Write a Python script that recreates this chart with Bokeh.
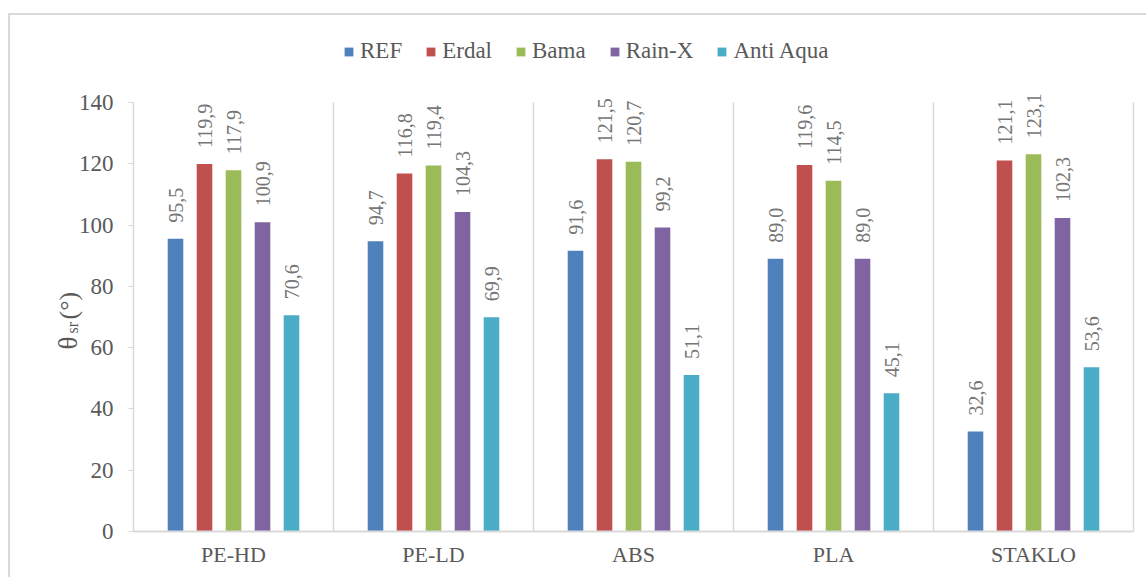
import math
from bokeh.plotting import figure
from bokeh.models import (Range1d, FixedTicker, Legend, LegendItem, Label,
                          ColumnDataSource, LinearAxis)
from bokeh.core.properties import value
from bokeh.embed import file_html
from bokeh.resources import INLINE

categories = ["PE-HD", "PE-LD", "ABS", "PLA", "STAKLO"]
series = ["REF", "Erdal", "Bama", "Rain-X", "Anti Aqua"]
REF = [95.5, 94.7, 91.6, 89.0, 32.6]
Erdal = [119.9, 116.8, 121.5, 119.6, 121.1]
Bama = [117.9, 119.4, 120.7, 114.5, 123.1]
RainX = [100.9, 104.3, 99.2, 89.0, 102.3]
AntiAqua = [70.6, 69.9, 51.1, 45.1, 53.6]
values_list = [REF, Erdal, Bama, RainX, AntiAqua]
colors = ["#4F81BD", "#C0504D", "#9BBB59", "#8064A2", "#4BACC6"]
y_ticks = [0, 20, 40, 60, 80, 100, 120, 140]

FONT = "Liberation Serif"
GRAY = "#595959"
LINE = "#d9d9d9"

W, H = 1138, 564
# pixel geometry of the plot area inside the canvas
X0, XSCALE = 123, 200.0          # x=0 at 123 px, one category = 200 px
Y0, YTOP = 516, 87               # y=0 at 516 px, y=140 at 87 px
YSCALE = (Y0 - YTOP) / 140.0

p = figure(width=W, height=H, output_backend="svg", toolbar_location=None,
           x_axis_type=None, y_axis_type=None,
           x_range=Range1d(-X0 / XSCALE, (W - X0) / XSCALE),
           y_range=Range1d(-(H - Y0) / YSCALE, Y0 / YSCALE),
           min_border=0)
p.styles = {"margin-top": "13px", "margin-left": "8px",
            "border-top": "2px solid #d9d9d9",
            "border-left": "2px solid #d9d9d9"}
p.outline_line_color = None
p.background_fill_color = "white"

ncat = len(categories)
# category separators
seps = list(range(1, ncat + 1))
p.segment(x0=seps, y0=[0] * ncat, x1=seps, y1=[140] * ncat,
          line_color=LINE, line_width=1.5)

spacing = 0.145
width = 0.078
renderers = []
for k, (name, vals, col) in enumerate(zip(series, values_list, colors)):
    off = (k - 2) * spacing
    xs = [i + 0.5 + off for i in range(ncat)]
    src = ColumnDataSource(dict(x=xs, top=vals,
                                lbl=[f"{v:.1f}".replace(".", ",") for v in vals]))
    r = p.vbar(x="x", top="top", width=width, source=src, fill_color=col,
               line_color=None)
    renderers.append(r)
    p.text(x="x", y="top", text="lbl", source=src, angle=math.pi / 2,
           text_align="left", text_baseline="middle", y_offset=-16,
           text_font=value(FONT), text_font_size="20px", text_color="#767676")

# axes
yaxis = LinearAxis(fixed_location=0, bounds=(0, 140),
                   ticker=FixedTicker(ticks=y_ticks))
yaxis.axis_line_color = LINE
yaxis.axis_line_width = 1.5
yaxis.major_tick_line_color = LINE
yaxis.major_tick_out = 5
yaxis.major_tick_in = 0
yaxis.minor_tick_line_color = None
yaxis.major_label_text_font = FONT
yaxis.major_label_text_font_size = "23px"
yaxis.major_label_text_color = GRAY
yaxis.major_label_standoff = 15
p.add_layout(yaxis, "left")

xaxis = LinearAxis(fixed_location=0, bounds=(0, ncat),
                   ticker=FixedTicker(ticks=[i + 0.5 for i in range(ncat)]))
xaxis.major_label_overrides = {i + 0.5: c for i, c in enumerate(categories)}
xaxis.axis_line_color = LINE
xaxis.axis_line_width = 2
xaxis.major_tick_line_color = None
xaxis.major_tick_out = 0
xaxis.major_tick_in = 0
xaxis.minor_tick_line_color = None
xaxis.major_label_text_font = FONT
xaxis.major_label_text_font_size = "22px"
xaxis.major_label_text_color = GRAY
xaxis.major_label_standoff = 10
p.add_layout(xaxis, "below")

# y axis title: theta with subscript "sr" and "(°)"
def px_to_x(px):
    return (px - 10 - X0) / XSCALE

def py_to_y(py):
    return (Y0 - (py - 15)) / YSCALE

for txt, xx, yy, fs in [("θ", 67, 349, "27px"),
                        ("sr", 72, 333, "16px"),
                        ("(°)", 68, 319, "26px")]:
    p.add_layout(Label(x=px_to_x(xx), y=py_to_y(yy), text=txt, angle=math.pi / 2,
                       text_align="left", text_baseline="alphabetic",
                       text_font=FONT, text_font_size=fs, text_color=GRAY))

legend = Legend(items=[LegendItem(label=s, renderers=[r]) for s, r in zip(series, renderers)],
                orientation="horizontal", location=(333, 564 - 51 + 2))
legend.padding = 0
legend.margin = 0
legend.spacing = 23
legend.glyph_width = 11
legend.glyph_height = 11
legend.label_height = 26
legend.label_standoff = 6
legend.label_text_font = FONT
legend.label_text_font_size = "23px"
legend.label_text_color = GRAY
legend.border_line_color = None
legend.background_fill_alpha = 0
p.add_layout(legend, "center")

open("out.html", "w").write(file_html(p, INLINE))
